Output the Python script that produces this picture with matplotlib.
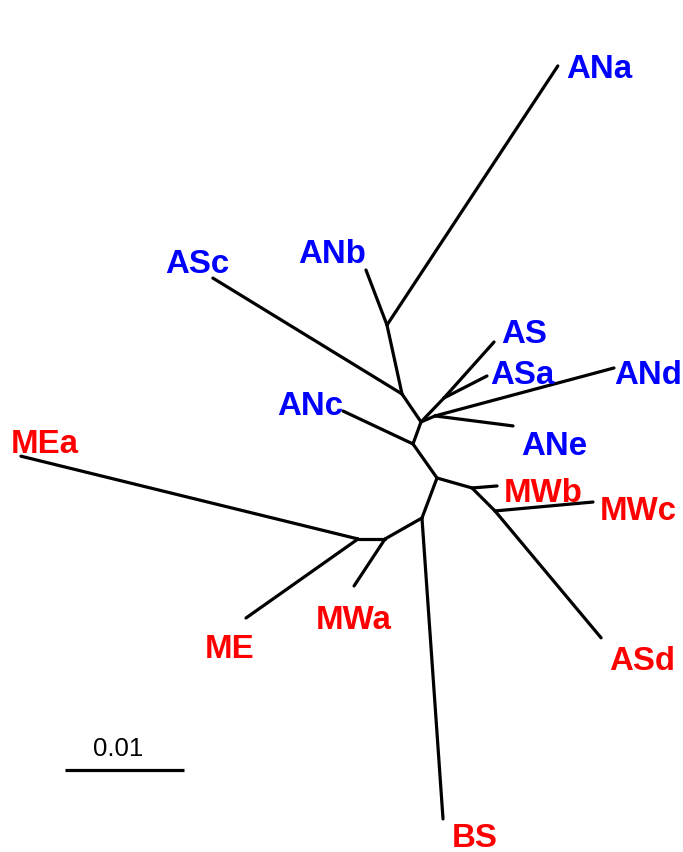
import numpy as np
import matplotlib
matplotlib.use('Agg')
import matplotlib.pyplot as plt
from matplotlib.collections import LineCollection

# unrooted tree, branch lengths in substitutions/site
parents = ['G', 'D', 'D', 'C', 'B', 'B', 'A', 'A', 'C', 'E', 'E', 'C', 'F', 'F',
           'G', 'H', 'H', 'I', 'I', 'G', 'J', 'J', 'K', 'K', 'L', 'L']
children = ['D', 'ANc', 'C', 'B', 'ASc', 'A', 'ANb', 'ANa', 'E', 'ANd', 'ANe', 'F', 'AS', 'ASa',
            'H', 'MWb', 'I', 'MWc', 'ASd', 'J', 'BS', 'K', 'MWa', 'L', 'ME', 'MEa']
branch_lengths = [0.00350, 0.00650, 0.00197, 0.00284, 0.01864, 0.00593, 0.00495, 0.02608,
                  0.00128, 0.01557, 0.00661, 0.00279, 0.00631, 0.00406,
                  0.00306, 0.00211, 0.00273, 0.00827, 0.01390, 0.00359, 0.02535,
                  0.00357, 0.00473, 0.00227, 0.01152, 0.02917]
# drawing angle of each branch (degrees)
branch_angles = [125.2, 154.8, 70.0, 124.2, 148.5, 102.3, 110.9, 56.6, 23.2, 15.0, -7.3,
                 46.2, 48.2, 27.1, -15.9, 4.6, -45.0, 5.2, -50.1, -110.6, -86.0,
                 -150.4, -123.4, 180.0, -144.8, 166.2]

group_blue = ['ANa', 'ANb', 'ASc', 'AS', 'ASa', 'ANd', 'ANe', 'ANc']
group_red = ['MEa', 'MWb', 'MWc', 'ME', 'MWa', 'ASd', 'BS']

scale_bar_value = 0.01

# label offsets from tip, in pixels
label_offsets = {
    'ANa': (8, -11), 'ANb': (-68, 8), 'ASc': (-48, 6), 'AS': (7, 0),
    'ASa': (3, -7), 'ANd': (0, -15), 'ANe': (8, -28), 'ANc': (-66, -3),
    'MWb': (7, -15), 'MWc': (7, -17), 'ASd': (8, -31), 'MEa': (-10, 4),
    'ME': (-41, -39), 'MWa': (-38, -42), 'BS': (9, -27),
}

# lay out node positions from the root
pos = {'G': np.array([0.0, 0.0])}
for p, c, l, a in zip(parents, children, branch_lengths, branch_angles):
    t = np.deg2rad(a)
    pos[c] = pos[p] + l * np.array([np.cos(t), np.sin(t)])

fig = plt.figure(figsize=(6.83, 8.53), dpi=100)
ax = fig.add_axes([0, 0, 1, 1])

segs = [[pos[p], pos[c]] for p, c in zip(parents, children)]
ax.add_collection(LineCollection(segs, colors='black', linewidths=2.3, capstyle='round'))

for name in group_blue + group_red:
    col = '#0000ff' if name in group_blue else '#ff0000'
    ax.annotate(name, xy=pos[name], xytext=label_offsets[name], textcoords='offset pixels',
                ha='left', va='baseline', fontsize=23.8, fontweight='bold',
                family='Liberation Sans', color=col)

# scale bar
sb_x, sb_y = -0.03126, -0.02454
ax.plot([sb_x, sb_x + scale_bar_value], [sb_y, sb_y], color='black', lw=2.3, solid_capstyle='butt')
ax.annotate(f'{scale_bar_value:g}', xy=(sb_x + scale_bar_value / 2, sb_y), xytext=(-6, 15),
            textcoords='offset pixels', ha='center', va='baseline', fontsize=18.5,
            family='Liberation Sans', color='black')

ax.set_xlim(-0.036723, 0.020672)
ax.set_ylim(-0.031429, 0.040252)
ax.set_aspect('equal')
ax.axis('off')

fig.savefig('out.png', dpi=100)
